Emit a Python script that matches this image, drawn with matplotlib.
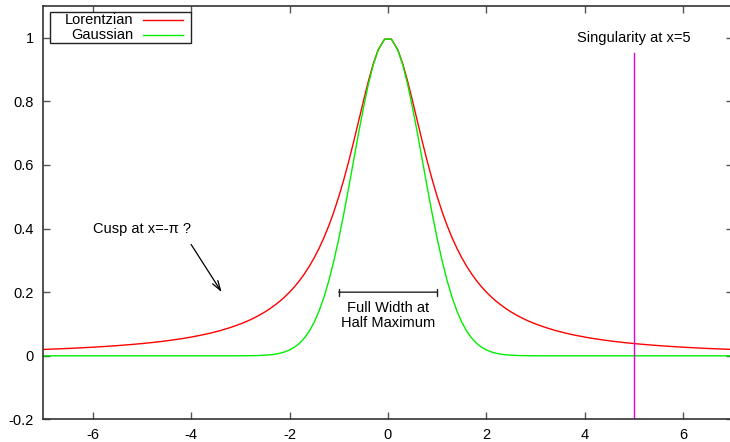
import matplotlib
matplotlib.use("Agg")
import matplotlib.pyplot as plt
from matplotlib.patches import Rectangle

plt.rcParams['font.family'] = ['Liberation Sans', 'DejaVu Sans']

# sample positions and curve values
xs = [-7.0, -6.8, -6.6, -6.4, -6.2, -6.0, -5.8, -5.6, -5.4, -5.2, -5.0, -4.8,
      -4.6, -4.4, -4.2, -4.0, -3.8, -3.6, -3.4, -3.2, -3.0, -2.9, -2.8, -2.7,
      -2.6, -2.5, -2.4, -2.3, -2.2, -2.1, -2.0, -1.9, -1.8, -1.7, -1.6, -1.5,
      -1.4, -1.3, -1.2, -1.1, -1.0, -0.9, -0.8, -0.7, -0.6, -0.5, -0.4, -0.3,
      -0.2, -0.07,
      0.07, 0.2, 0.3, 0.4, 0.5, 0.6, 0.7, 0.8, 0.9, 1.0, 1.1, 1.2,
      1.3, 1.4, 1.5, 1.6, 1.7, 1.8, 1.9, 2.0, 2.1, 2.2, 2.3, 2.4,
      2.5, 2.6, 2.7, 2.8, 2.9, 3.0, 3.2, 3.4, 3.6, 3.8, 4.0, 4.2,
      4.4, 4.6, 4.8, 5.0, 5.2, 5.4, 5.6, 5.8, 6.0, 6.2, 6.4, 6.6,
      6.8, 7.0]

lorentzian = [0.0200, 0.0212, 0.0224, 0.0238, 0.0254, 0.0270, 0.0289, 0.0309,
              0.0332, 0.0357, 0.0385, 0.0416, 0.0451, 0.0491, 0.0536, 0.0588,
              0.0648, 0.0716, 0.0796, 0.0890, 0.1000, 0.1063, 0.1131, 0.1206,
              0.1289, 0.1379, 0.1479, 0.1590, 0.1712, 0.1848, 0.2000, 0.2169,
              0.2358, 0.2571, 0.2809, 0.3077, 0.3378, 0.3717, 0.4098, 0.4525,
              0.5000, 0.5525, 0.6098, 0.6711, 0.7353, 0.8000, 0.8621, 0.9174,
              0.9615, 0.9951,
              0.9951, 0.9615, 0.9174, 0.8621, 0.8000, 0.7353, 0.6711, 0.6098,
              0.5525, 0.5000, 0.4525, 0.4098, 0.3717, 0.3378, 0.3077, 0.2809,
              0.2571, 0.2358, 0.2169, 0.2000, 0.1848, 0.1712, 0.1590, 0.1479,
              0.1379, 0.1289, 0.1206, 0.1131, 0.1063, 0.1000, 0.0890, 0.0796,
              0.0716, 0.0648, 0.0588, 0.0536, 0.0491, 0.0451, 0.0416, 0.0385,
              0.0357, 0.0332, 0.0309, 0.0289, 0.0270, 0.0254, 0.0238, 0.0224,
              0.0212, 0.0200]

gaussian = [0, 0, 0, 0, 0, 0, 0, 0, 0, 0, 0, 0, 0, 0, 0, 0, 0, 0, 0, 0,
            0.0001, 0.0002, 0.0004, 0.0007, 0.0012, 0.0019, 0.0032, 0.0050,
            0.0079, 0.0122, 0.0183, 0.0271, 0.0392, 0.0556, 0.0773, 0.1054,
            0.1409, 0.1845, 0.2369, 0.2982, 0.3679, 0.4449, 0.5273, 0.6126,
            0.6977, 0.7788, 0.8521, 0.9139, 0.9608, 0.9951,
            0.9951, 0.9608, 0.9139, 0.8521, 0.7788, 0.6977, 0.6126, 0.5273,
            0.4449, 0.3679, 0.2982, 0.2369, 0.1845, 0.1409, 0.1054, 0.0773,
            0.0556, 0.0392, 0.0271, 0.0183, 0.0122, 0.0079, 0.0050, 0.0032,
            0.0019, 0.0012, 0.0007, 0.0004, 0.0002, 0.0001,
            0, 0, 0, 0, 0, 0, 0, 0, 0, 0, 0, 0, 0, 0, 0, 0, 0, 0, 0, 0]

series_names = ['Lorentzian', 'Gaussian']
series_colors = ['#ff0000', '#00ee00']

singularity_x = 5
singularity_top = 0.95
fwhm_left, fwhm_right, fwhm_y = -1, 1, 0.2
cusp_arrow_from = (-4.0, 0.35)
cusp_arrow_to = (-3.38, 0.2)

xticks = [-6, -4, -2, 0, 2, 4, 6]
xtick_labels = ['-6', '-4', '-2', '0', '2', '4', '6']
yticks = [-0.2, 0, 0.2, 0.4, 0.6, 0.8, 1]
ytick_labels = ['-0.2', '0', '0.2', '0.4', '0.6', '0.8', '1']

FS = 10.5

fig = plt.figure(figsize=(7.3, 4.42), dpi=100)
ax = fig.add_axes([0.0595, 0.051, 0.944, 0.936])

ax.plot(xs, lorentzian, color=series_colors[0], lw=1.0)
ax.plot(xs, gaussian, color=series_colors[1], lw=1.0)
ax.plot([singularity_x, singularity_x], [-0.2, singularity_top], color='#e000e0', lw=1.0)

ax.text(singularity_x, 1.0, 'Singularity at x=5', ha='center', va='center', fontsize=FS)
ax.text(-6.0, 0.4, 'Cusp at x=-π ?', ha='left', va='center', fontsize=FS)
ax.annotate('', xy=cusp_arrow_to, xytext=cusp_arrow_from,
            arrowprops=dict(arrowstyle='->,head_length=0.7,head_width=0.22',
                            color='black', lw=0.9, shrinkA=0, shrinkB=0))
ax.annotate('', xy=(fwhm_right, fwhm_y), xytext=(fwhm_left, fwhm_y),
            arrowprops=dict(arrowstyle='|-|,widthA=0.25,widthB=0.25',
                            color='#222222', lw=1.0, shrinkA=0, shrinkB=0))
ax.text(0, 0.128, 'Full Width at\nHalf Maximum', ha='center', va='center',
        fontsize=FS, linespacing=1.1)

# gnuplot style key: right justified text followed by line sample
ax.add_patch(Rectangle((0.0096, 0.910), 0.2046, 0.075, transform=ax.transAxes,
                       facecolor='white', edgecolor='#222222', lw=1.0, zorder=5))
for i, (name, col) in enumerate(zip(series_names, series_colors)):
    ky = 0.9657 - i * 0.0363
    ax.text(0.1302, ky, name, transform=ax.transAxes, ha='right', va='center',
            fontsize=FS, zorder=6)
    ax.plot([0.1446, 0.2026], [ky, ky], transform=ax.transAxes, color=col,
            lw=1.0, zorder=6)

ax.set_xlim(-7, 7)
ax.set_ylim(-0.2, 1.1)
ax.set_xticks(xticks)
ax.set_xticklabels(xtick_labels)
ax.set_yticks(yticks)
ax.set_yticklabels(ytick_labels)
ax.tick_params(direction='in', top=True, right=True, length=5, width=1,
               color='#555555', labelsize=FS, labelcolor='black')
ax.tick_params(axis='y', pad=7)
ax.tick_params(axis='x', pad=6)
for s in ax.spines.values():
    s.set_color('#333333')
    s.set_linewidth(1.2)

fig.savefig('out.png', dpi=100)
